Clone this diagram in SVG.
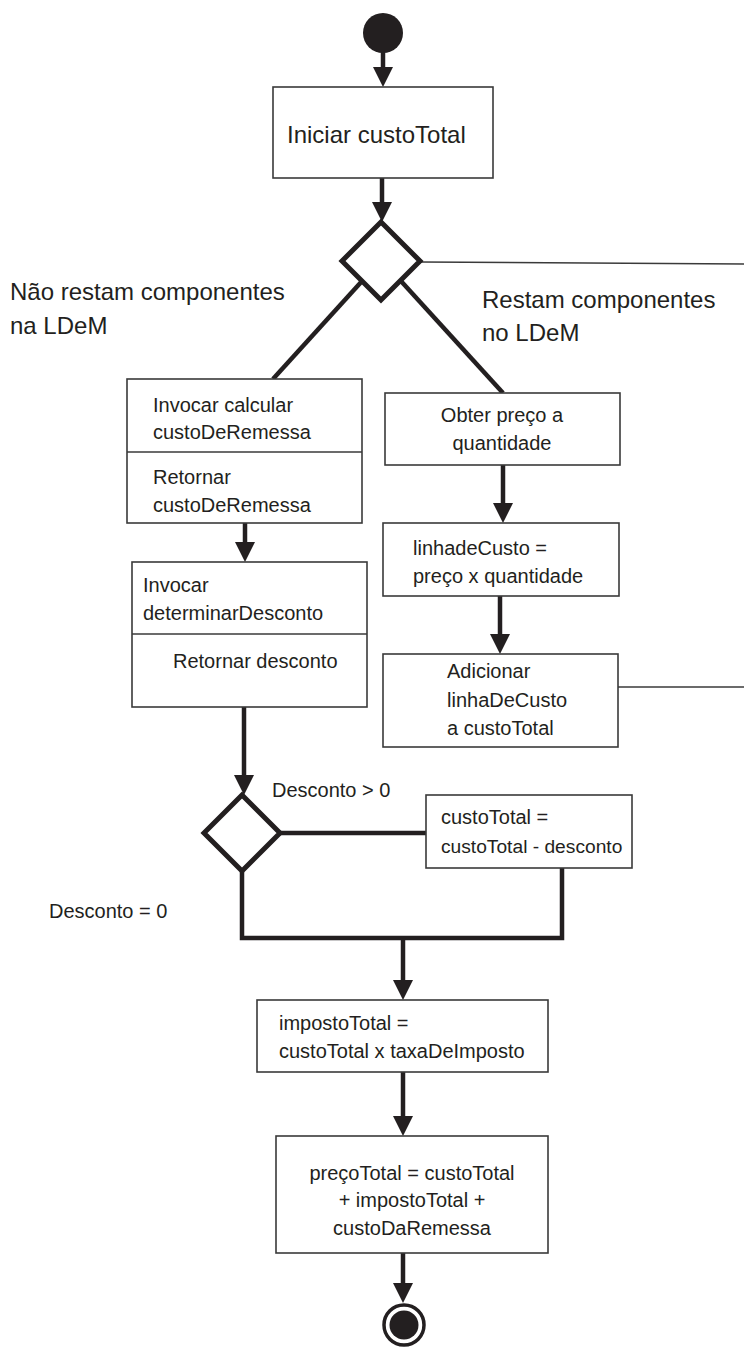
<svg xmlns="http://www.w3.org/2000/svg" width="744" height="1348" viewBox="0 0 744 1348">
<defs>
<style>
.box{fill:#fff;stroke:#3a3a3a;stroke-width:1.6}
.div{stroke:#3a3a3a;stroke-width:1.6}
.dia{fill:#fff;stroke:#231f20;stroke-width:5}
.con{fill:none;stroke:#231f20;stroke-width:4.5}
.thin{fill:none;stroke:#3a3a3a;stroke-width:1.6}
.arr{fill:none;stroke:#231f20;stroke-width:4.5;marker-end:url(#ah)}
text{font-family:"Liberation Sans",Arial,sans-serif;fill:#231f20}
.t20{font-size:20px}
.t24{font-size:24px}
.mid{text-anchor:middle}
</style>
<marker id="ah" markerUnits="userSpaceOnUse" markerWidth="20" markerHeight="20" viewBox="0 0 20 20" refX="0" refY="10" orient="auto">
<path d="M0,0 L20,10 L0,20 z" fill="#231f20"/>
</marker>
</defs>
<rect width="744" height="1348" fill="#fff"/>

<g id="connectors">
<line class="arr" x1="383" y1="50" x2="383" y2="67"/>
<line class="arr" x1="382" y1="178" x2="382" y2="202"/>
<line class="con" x1="363" y1="280" x2="273" y2="379"/>
<line class="con" x1="400" y1="280" x2="503" y2="393"/>
<line class="thin" x1="420" y1="262" x2="744" y2="264"/>
<line class="arr" x1="245" y1="523" x2="245" y2="542"/>
<line class="arr" x1="244" y1="707" x2="244" y2="775"/>
<line class="con" x1="280" y1="833" x2="426" y2="833"/>
<path class="con" d="M242,872 V938 H562 V868"/>
<line class="arr" x1="403" y1="938" x2="403" y2="980"/>
<line class="arr" x1="403" y1="1072" x2="403" y2="1116"/>
<line class="arr" x1="403" y1="1253" x2="403" y2="1283"/>
<line class="arr" x1="503" y1="465" x2="503" y2="503"/>
<line class="arr" x1="500" y1="596" x2="500" y2="634"/>
<line class="thin" x1="618" y1="687" x2="744" y2="687"/>
</g>

<g id="start">
<circle cx="383" cy="33" r="20" fill="#231f20"/>
</g>

<g id="iniciar">
<rect class="box" x="273" y="87" width="220" height="91"/>
<text class="t24" x="287" y="143">Iniciar custoTotal</text>
</g>

<g id="decisao1">
<polygon class="dia" points="381,222 420,261 381,300 342,261"/>
</g>

<g id="label-nao-restam">
<text class="t24" x="10" y="300">Não restam componentes</text>
<text class="t24" x="10" y="334">na LDeM</text>
</g>

<g id="label-restam">
<text class="t24" x="482" y="308">Restam componentes</text>
<text class="t24" x="482" y="341">no LDeM</text>
</g>

<g id="calcular-remessa">
<rect class="box" x="127" y="379" width="235" height="144"/>
<line class="div" x1="127" y1="452" x2="362" y2="452"/>
<text class="t20" x="153" y="412">Invocar calcular</text>
<text class="t20" x="153" y="439">custoDeRemessa</text>
<text class="t20" x="153" y="484">Retornar</text>
<text class="t20" x="153" y="512">custoDeRemessa</text>
</g>

<g id="determinar-desconto">
<rect class="box" x="132" y="562" width="235" height="145"/>
<line class="div" x1="132" y1="634" x2="367" y2="634"/>
<text class="t20" x="143" y="592">Invocar</text>
<text class="t20" x="143" y="620">determinarDesconto</text>
<text class="t20" x="173" y="668">Retornar desconto</text>
</g>

<g id="obter-preco">
<rect class="box" x="385" y="393" width="235" height="72"/>
<text class="t20 mid" x="502" y="422">Obter preço a</text>
<text class="t20 mid" x="502" y="450">quantidade</text>
</g>

<g id="linha-custo">
<rect class="box" x="383" y="523" width="236" height="73"/>
<text class="t20" x="413" y="555">linhadeCusto =</text>
<text class="t20" x="413" y="583">preço x quantidade</text>
</g>

<g id="adicionar">
<rect class="box" x="383" y="654" width="235" height="93"/>
<text class="t20" x="447" y="678">Adicionar</text>
<text class="t20" x="447" y="707">linhaDeCusto</text>
<text class="t20" x="447" y="735">a custoTotal</text>
</g>

<g id="decisao2">
<polygon class="dia" points="242,795 280,833 242,871 204,833"/>
</g>

<g id="label-desconto-maior">
<text class="t20" x="272" y="797">Desconto &gt; 0</text>
</g>

<g id="label-desconto-zero">
<text class="t20" x="49" y="918">Desconto = 0</text>
</g>

<g id="aplicar-desconto">
<rect class="box" x="426" y="795" width="206" height="73"/>
<text class="t20" x="441" y="824">custoTotal =</text>
<text x="441" y="853" style="font-size:19.2px">custoTotal - desconto</text>
</g>

<g id="imposto">
<rect class="box" x="257" y="1000" width="291" height="72"/>
<text class="t20" x="279" y="1030">impostoTotal =</text>
<text class="t20" x="279" y="1058">custoTotal x taxaDeImposto</text>
</g>

<g id="preco-total">
<rect class="box" x="276" y="1136" width="272" height="117"/>
<text class="t20 mid" x="412" y="1180">preçoTotal = custoTotal</text>
<text class="t20 mid" x="412" y="1207">+ impostoTotal +</text>
<text class="t20 mid" x="412" y="1235">custoDaRemessa</text>
</g>

<g id="fim">
<circle cx="404" cy="1325" r="20" fill="#fff" stroke="#231f20" stroke-width="3.5"/>
<circle cx="404" cy="1325" r="14.5" fill="#231f20"/>
</g>
</svg>
